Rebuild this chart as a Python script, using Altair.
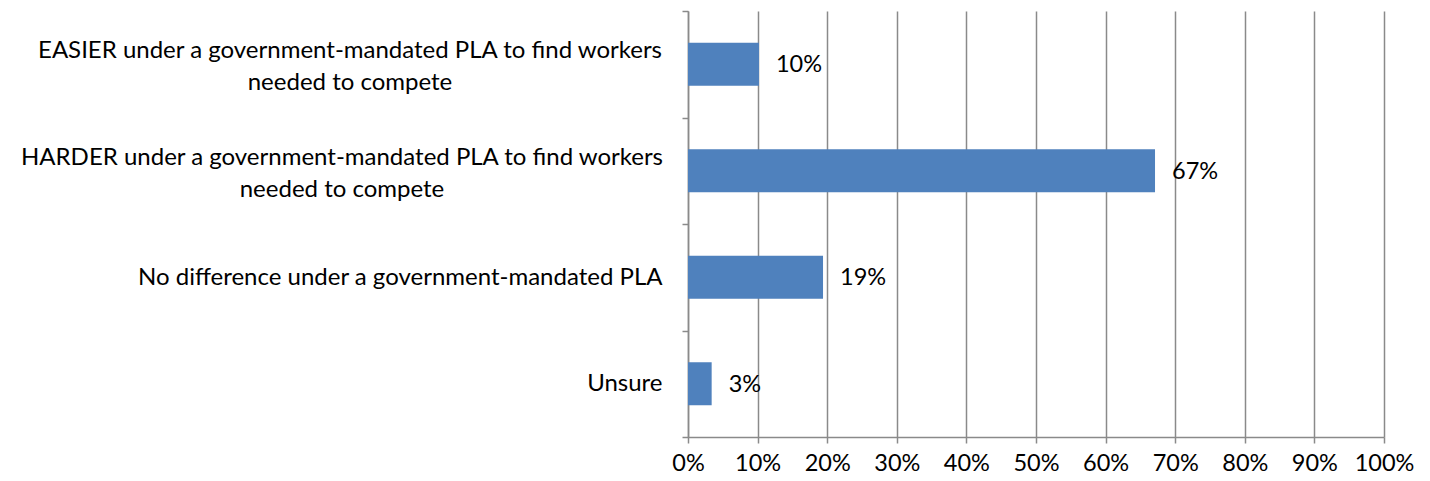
import altair as alt
import pandas as pd

categories = [
    "EASIER under a government-mandated PLA to find workers|needed to compete",
    "HARDER under a government-mandated PLA to find workers|needed to compete",
    "No difference under a government-mandated PLA",
    "Unsure",
]
values = [10.2, 67.1, 19.4, 3.4]
value_labels = ["10%", "67%", "19%", "3%"]
x_ticks = [0, 10, 20, 30, 40, 50, 60, 70, 80, 90, 100]

df = pd.DataFrame({"category": categories, "value": values, "label": value_labels})

FONT = "Lato"
GRID = "#8a8a8a"

y_scale = alt.Scale(paddingInner=0, paddingOuter=0)

y_enc = alt.Y(
    "category:N",
    sort=categories,
    title=None,
    scale=y_scale,
    axis=alt.Axis(
        labelExpr="indexof(datum.label, '|') >= 0 ? '' : datum.label",
        labelFont=FONT,
        labelFontSize=24,
        labelColor="#000000",
        labelPadding=20,
        labelLimit=700,
        tickBand="extent",
        tickSize=6,
        tickColor=GRID,
        tickWidth=1.5,
        domainColor=GRID,
        domainWidth=1.5,
        grid=False,
    ),
)

x_enc = alt.X(
    "value:Q",
    title=None,
    scale=alt.Scale(domain=[0, 100], nice=False),
    axis=alt.Axis(
        values=x_ticks,
        labelExpr="datum.value + '%'",
        labelFont=FONT,
        labelFontSize=23.5,
        labelColor="#000000",
        labelPadding=8,
        labelOverlap=False,
        labelFlush=False,
        tickSize=6,
        tickColor=GRID,
        tickWidth=1.5,
        domainColor=GRID,
        domainWidth=1.5,
        grid=True,
        gridColor=GRID,
        gridWidth=1.5,
    ),
)

bars = alt.Chart(df).mark_bar(color="#4F81BD", size=43).encode(x=x_enc, y=y_enc)

texts = alt.Chart(df).mark_text(
    align="left", baseline="middle", dx=17, dy=1, font=FONT, fontSize=23.5, color="#000000"
).encode(x=alt.X("value:Q"), y=alt.Y("category:N", sort=categories), text="label:N")


def multi_label(cat, centre):
    # two-line category label: block right-aligned to the axis, lines centred
    return alt.Chart(df).transform_filter(
        alt.datum.category == cat
    ).mark_text(
        align="center", baseline="middle", font=FONT, fontSize=24, color="#000000",
        lineBreak="|", lineHeight=32, dy=-13,
    ).encode(
        x=alt.value(centre),
        y=alt.Y("category:N", sort=categories),
        text="category:N",
    )


chart = (
    alt.layer(
        bars,
        texts,
        multi_label(categories[0], -338),
        multi_label(categories[1], -346),
    )
    .properties(
        width=696,
        height=426,
        autosize=alt.AutoSizeParams(type="none"),
        padding={"left": 680, "top": 3, "right": 30, "bottom": 40},
    )
    .configure_view(stroke=None)
)

chart.save("out.html", embed_options={"renderer": "svg", "actions": False})
